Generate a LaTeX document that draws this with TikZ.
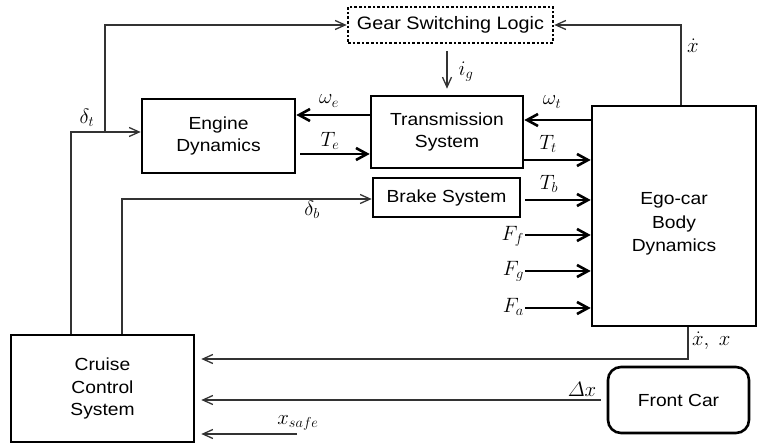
\documentclass[tikz,border=0pt]{standalone}
\usepackage{fontspec}
\setmainfont{Liberation Sans}[FakeStretch=1.1]
\usetikzlibrary{arrows.meta}
\begin{document}
\begin{tikzpicture}[x=1pt,y=-1pt,
  blk/.style={draw=black, line width=2.6pt, align=center, inner sep=0pt,
    font=\fontsize{17.5}{22.5}\selectfont},
  sig/.style={draw=black!80, line width=1.3pt, -{Straight Barb[length=10pt,width=9pt,line width=1.3pt]}},
  thk/.style={draw=black, line width=2.6pt, -{Straight Barb[length=11pt,width=12pt,line width=2.6pt]}},
  lbl/.style={font=\fontsize{19.5}{22}\selectfont, inner sep=0pt}]
\useasboundingbox (0,0) rectangle (758,443);
% blocks
\node[blk, dotted, minimum width=205pt, minimum height=36pt, font=\fontsize{18}{20}\selectfont] (gear) at (450.5,25) {Gear Switching Logic};
\node[blk, minimum width=153pt, minimum height=74pt] (eng) at (218.5,136) {Engine\\Dynamics};
\node[blk, minimum width=152pt, minimum height=72pt] (trans) at (447,132) {Transmission\\System};
\node[blk, minimum width=147pt, minimum height=39pt] (brake) at (446.5,197.5) {Brake System};
\node[blk, minimum width=164pt, minimum height=220pt] (ego) at (674,216) {};
\node[align=center, inner sep=0pt, font=\fontsize{17.5}{23.5}\selectfont] (egot) at (674,224) {Ego-car\\Body\\Dynamics};
\node[blk, minimum width=183pt, minimum height=107pt] (cruise) at (102.5,388.5) {Cruise\\Control\\System};
\node[blk, rounded corners=13pt, minimum width=141pt, minimum height=66pt] (front) at (678.5,400) {Front Car};
% thin signals
\coordinate (dtb) at (105,132);
\draw[sig] (cruise.north -| 71,0) |- (eng.west |- 0,132);
\draw[sig] (dtb) |- (gear.west);
\draw[sig] (cruise.north -| 122,0) |- (brake.west |- 0,199);
\draw[sig] (trans.north |- gear.south) ++(0,7) -- ([yshift=6pt]trans.north);
\draw[sig] (ego.north -| 681,0) |- (gear.east);
\draw[sig, shorten >=6pt] (ego.south -| 688,0) |- (cruise.east |- 0,359);
\draw[sig, shorten >=6pt, shorten <=6pt] (front.west |- 0,400) -- (cruise.east |- 0,400);
\draw[sig, shorten >=6pt] (297,434) -- (cruise.east |- 0,434);
% thick signals
\draw[thk] (trans.west |- 0,115) -- (eng.east |- 0,115);
\draw[thk] (300,154) -- (trans.west |- 0,154);
\draw[thk] (ego.west |- 0,120) -- (trans.east |- 0,120);
\draw[thk] (trans.east |- 0,160) -- (ego.west |- 0,160);
\draw[thk] (525,200) -- (ego.west |- 0,200);
\draw[thk] (525,235) -- (ego.west |- 0,235);
\draw[thk] (525,271) -- (ego.west |- 0,271);
\draw[thk] (525,308) -- (ego.west |- 0,308);
% labels
\node[lbl] (ldt) at (87,118) {$\delta_t$};
\node[lbl] (ldb) at (312,210) {$\delta_b$};
\node[lbl] (lig) at (466,72) {$i_g$};
\node[lbl] (lwe) at (329,101) {$\omega_e$};
\node[lbl] (lte) at (330,141) {$T_e$};
\node[lbl] (lwt) at (552,102) {$\omega_t$};
\node[lbl] (ltt) at (548,144) {$T_t$};
\node[lbl] (ltb) at (549,184) {$T_b$};
\node[lbl, anchor=east] (lff) at (524,236) {$F_f$};
\node[lbl, anchor=east] (lfg) at (524,271) {$F_g$};
\node[lbl, anchor=east] (lfa) at (524,307) {$F_a$};
\node[lbl] (lxd) at (693,46) {$\dot x$};
\node[lbl, anchor=west] (lxx) at (692,341) {$\dot x,\ x$};
\node[lbl] (ldx) at (582,389) {$\mathnormal{\Delta} x$};
\node[lbl] (lxs) at (298,423) {$x_{safe}$};
\end{tikzpicture}
\end{document}
